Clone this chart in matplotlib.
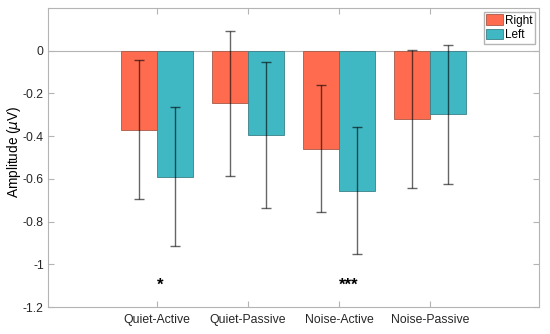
import numpy as np
import matplotlib
matplotlib.use("Agg")
from matplotlib import pyplot as plt

plt.rcParams['font.family'] = ['Liberation Sans', 'DejaVu Sans']

conditions = ["Quiet-Active", "Quiet-Passive", "Noise-Active", "Noise-Passive"]
right_mean = [-0.37, -0.247, -0.458, -0.32]
right_err = [0.325, 0.34, 0.297, 0.322]
left_mean = [-0.589, -0.395, -0.655, -0.298]
left_err = [0.325, 0.341, 0.297, 0.325]
stars = ["*", "", "***", ""]

axcol = "#b4b4b4"
fig = plt.figure(figsize=(5.5, 3.34), dpi=100)
ax = fig.add_axes([48/550, 27/334, 491/550, 299/334])

x = np.arange(1, len(conditions) + 1)
w = 0.4
ax.bar(x - w/2, right_mean, w, color="#ff6b4f", edgecolor="#a85a48", linewidth=0.6, label="Right")
ax.bar(x + w/2, left_mean, w, color="#40b8c4", edgecolor="#3a7f88", linewidth=0.6, label="Left")
ax.errorbar(x - w/2, right_mean, yerr=right_err, fmt="none", ecolor=(0, 0, 0, 0.6),
            elinewidth=1.0, capsize=3.5, capthick=1.0)
ax.errorbar(x + w/2, left_mean, yerr=left_err, fmt="none", ecolor=(0, 0, 0, 0.6),
            elinewidth=1.0, capsize=3.5, capthick=1.0)
ax.axhline(0, color=axcol, lw=0.8, zorder=0.5)

for xi, s in zip(x, stars):
    if s:
        ax.text(xi, -1.1, s, ha="left", va="center", fontsize=12, fontweight="bold")

ax.set_xlim(-0.2, 5.2)
ax.set_ylim(-1.2, 0.2)
ax.set_xticks(x)
ax.set_xticklabels(conditions)
ax.set_yticks([-1.2, -1, -0.8, -0.6, -0.4, -0.2, 0])
ax.set_yticklabels(["-1.2", "-1", "-0.8", "-0.6", "-0.4", "-0.2", "0"])
ax.set_ylabel(r"Amplitude ($\mu$V)", fontsize=9.8)
ax.yaxis.set_label_coords(-25/491, 0.52)
ax.tick_params(direction="in", length=4, color=axcol, labelsize=8.8,
               top=True, right=True, labelcolor="#262626")
ax.tick_params(axis="y", pad=3)
ax.tick_params(axis="x", pad=5)
for sp in ax.spines.values():
    sp.set_color(axcol)
    sp.set_linewidth(0.8)

leg = ax.legend(loc="upper right", fontsize=8.5, fancybox=False, framealpha=1,
                edgecolor=axcol, borderpad=0.2, handlelength=1.45, handleheight=0.95,
                handletextpad=0.15, labelspacing=0.2, borderaxespad=0.35)

fig.savefig("out.png", dpi=100)
